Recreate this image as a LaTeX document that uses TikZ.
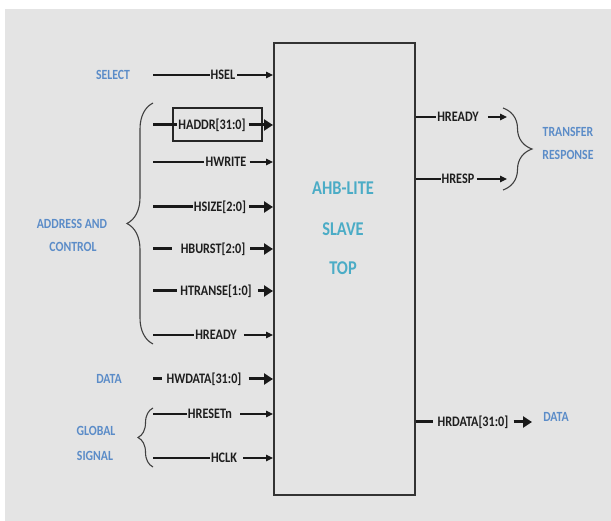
\documentclass[tikz,border=0pt]{standalone}
\usepackage{fontspec}
\setmainfont{Carlito}
\usetikzlibrary{arrows.meta,decorations.pathreplacing}
\definecolor{bggray}{HTML}{E4E4E4}
\definecolor{lblue}{HTML}{5B8CC8}
\definecolor{ctrteal}{HTML}{4BACC6}
\definecolor{sigtext}{HTML}{1E1E1E}
\newcommand\sq[1]{\scalebox{0.84}[1]{#1}}
\tikzset{
  sig/.style={font=\fontsize{14.5}{16}\selectfont\bfseries, text=sigtext, inner sep=1pt},
  lab/.style={font=\fontsize{14}{16}\selectfont\bfseries, text=lblue, inner sep=0pt},
  ctr/.style={font=\fontsize{19.5}{22}\selectfont\bfseries, text=ctrteal, inner sep=0pt},
  thinln/.style={line width=1.2pt, draw=black!90},
  thkln/.style={line width=3pt, draw=black!90},
  tarr/.style={thinln, -{Triangle[length=7pt,width=6.5pt]}},
  karr/.style={thkln, -{Triangle[length=9pt,width=11pt]}},
  bracel/.style={draw=black!75, line width=1.1pt, decorate, decoration={brace, amplitude=#1}},
}
\begin{document}
\begin{tikzpicture}[x=1pt,y=-1pt]
\useasboundingbox (0,0) rectangle (611,521);
\fill[white] (0,0) rectangle (611,521);
\fill[bggray] (5,9) rectangle (611,521);

% main box
\node[draw=black!80, line width=1.6pt, minimum width=141pt, minimum height=452pt, inner sep=0pt, anchor=north west] (box) at (273,42) {};
\node[ctr] (t1) at (343,188) {\sq{AHB-LITE}};
\node[ctr] (t2) at (343,229) {\sq{SLAVE}};
\node[ctr] (t3) at (343,268) {\sq{TOP}};

% left labels
\node[lab] (lsel) at (113,75) {\sq{SELECT}};
\node[lab] (laddr1) at (72,224) {\sq{ADDRESS AND}};
\node[lab] (laddr2) at (73,247) {\sq{CONTROL}};
\node[lab] (ldata) at (109,379) {\sq{DATA}};
\node[lab] (lglob1) at (96,431) {\sq{GLOBAL}};
\node[lab] (lglob2) at (95,456) {\sq{SIGNAL}};

% right labels
\node[lab] (ltr1) at (568,132) {\sq{TRANSFER}};
\node[lab] (ltr2) at (568,155) {\sq{RESPONSE}};
\node[lab] (lrdata) at (556,417) {\sq{DATA}};

% braces
\coordinate (ba1) at (153,344);
\coordinate (ba2) at (153,103);
\draw[bracel=26pt] (ba1) -- (ba2);
\coordinate (bg1) at (153,467);
\coordinate (bg2) at (153,408);
\draw[bracel=15pt] (bg1) -- (bg2);
\coordinate (br1) at (503,108);
\coordinate (br2) at (503,190);
\draw[bracel=29pt] (br1) -- (br2);

% HSEL
\coordinate (s0) at (153,75);
\node[sig] (hsel) at (223,75) {\sq{HSEL}};
\draw[thinln] (s0) -- (hsel.west);
\draw[tarr, shorten <=1pt] (hsel.east) -- (box.west |- hsel);

% HADDR
\node[draw=black!85, line width=1.1pt, minimum width=89pt, minimum height=33pt, inner sep=0pt] (haddrbox) at (217.5,124.5) {};
\coordinate (a0) at (153,125);
\node[sig] (haddr) at (212,125) {\sq{HADDR[31:0]}};
\draw[thkln] (a0) -- (haddr.west);
\draw[karr, shorten <=2pt] (haddr.east) -- (box.west |- haddr);

% HWRITE
\coordinate (w0) at (153,162);
\node[sig] (hwrite) at (226,162) {\sq{HWRITE}};
\draw[thinln] (w0) -- (hwrite.west);
\draw[tarr, shorten <=2pt] (hwrite.east) -- (box.west |- hwrite);

% HSIZE
\coordinate (z0) at (153,207);
\node[sig] (hsize) at (220,207) {\sq{HSIZE[2:0]}};
\draw[thkln] (z0) -- (hsize.west);
\draw[karr, shorten <=2pt] (hsize.east) -- (box.west |- hsize);

% HBURST
\coordinate (b0) at (153,249);
\node[sig] (hburst) at (213,249) {\sq{HBURST[2:0]}};
\draw[thkln, shorten >=8pt] (b0) -- (hburst.west);
\draw[karr, shorten <=4pt] (hburst.east) -- (box.west |- hburst);

% HTRANSE
\coordinate (tr0) at (153,291);
\node[sig] (htrans) at (216,291) {\sq{HTRANSE[1:0]}};
\draw[thkln, shorten >=2pt] (tr0) -- (htrans.west);
\draw[karr, shorten <=5pt] (htrans.east) -- (box.west |- htrans);

% HREADY (in)
\coordinate (r0) at (153,335);
\node[sig] (hreadyi) at (216,335) {\sq{HREADY}};
\draw[thinln] (r0) -- (hreadyi.west);
\draw[tarr, shorten <=6pt] (hreadyi.east) -- (box.west |- hreadyi);

% HWDATA
\coordinate (d0) at (153,379);
\node[sig] (hwdata) at (204,379) {\sq{HWDATA[31:0]}};
\draw[thkln, shorten >=3pt] (d0) -- (hwdata.west);
\draw[karr, shorten <=6pt] (hwdata.east) -- (box.west |- hwdata);

% HRESETn
\coordinate (rs0) at (153,414);
\node[sig] (hreset) at (210,414) {\sq{HRESETn}};
\draw[thinln] (rs0) -- (hreset.west);
\draw[tarr, shorten <=7pt] (hreset.east) -- (box.west |- hreset);

% HCLK
\coordinate (c0) at (153,458);
\node[sig] (hclk) at (224,458) {\sq{HCLK}};
\draw[thinln] (c0) -- (hclk.west);
\draw[tarr, shorten <=5pt] (hclk.east) -- (box.west |- hclk);

% right side outputs
\node[sig] (hreadyo) at (458,117) {\sq{HREADY}};
\coordinate (ro1) at (507,117);
\draw[thinln] (box.east |- hreadyo) -- (hreadyo.west);
\draw[tarr, shorten <=8pt] (hreadyo.east) -- (ro1);

\node[sig] (hresp) at (458,179) {\sq{HRESP}};
\coordinate (rp1) at (507,179);
\draw[thinln] (box.east |- hresp) -- (hresp.west);
\draw[tarr, shorten <=1pt] (hresp.east) -- (rp1);

\node[sig] (hrdata) at (473,422) {\sq{HRDATA[31:0]}};
\coordinate (rd1) at (532,422);
\draw[thkln, shorten >=4pt] (box.east |- hrdata) -- (hrdata.west);
\draw[karr, shorten <=4pt] (hrdata.east) -- (rd1);
\end{tikzpicture}
\end{document}
